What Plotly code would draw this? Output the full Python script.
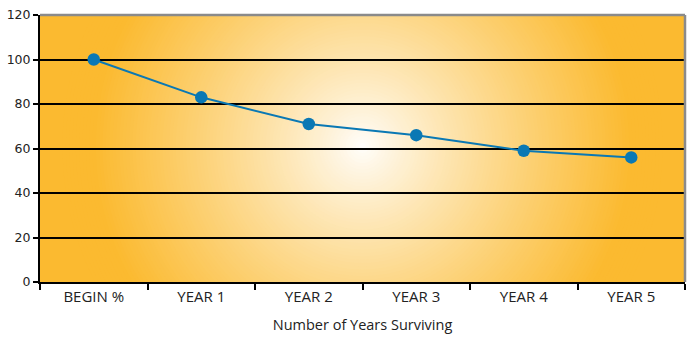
import plotly.graph_objects as go

# Survival data
categories = ["BEGIN %", "YEAR 1", "YEAR 2", "YEAR 3", "YEAR 4", "YEAR 5"]
surviving = [100, 83, 71, 66, 59, 56]
y_ticks = [0, 20, 40, 60, 80, 100, 120]

AMBER = (251, 186, 48)
LINE_BLUE = "#0A78B4"

fig = go.Figure()

fig.add_trace(go.Scatter(
    x=categories,
    y=surviving,
    mode="lines+markers",
    line=dict(color=LINE_BLUE, width=2),
    marker=dict(color=LINE_BLUE, size=12.5),
    cliponaxis=False,
    showlegend=False,
    hoverinfo="x+y",
))

# Radial glow behind the plot: concentric circles from amber edge to white centre
# (anchored in data coordinates so the plot area clips them)
shapes = []
n_rings = 90
max_r = 300
for i in range(n_rings, 0, -1):
    r = max_r * i / n_rings
    t = min(1.0, (r / 270) ** 0.85)
    col = tuple(round(255 + (a - 255) * t) for a in AMBER)
    shapes.append(dict(
        type="circle", xref="x", yref="y",
        xsizemode="pixel", ysizemode="pixel",
        xanchor=2.5, yanchor=61,
        x0=-r, x1=r, y0=-r, y1=r,
        fillcolor="rgb(%d,%d,%d)" % col,
        line=dict(width=0), layer="below",
    ))

# Grey frame on the top and right edges
shapes.append(dict(type="line", xref="x domain", yref="y domain",
                   x0=0, x1=1, y0=1, y1=1,
                   line=dict(color="#8a8a8a", width=2.5), layer="above"))
shapes.append(dict(type="line", xref="x domain", yref="y domain",
                   x0=1, x1=1, y0=0, y1=1,
                   line=dict(color="#8a8a8a", width=2.5), layer="above"))

fig.update_layout(
    width=689, height=339,
    margin=dict(l=40, r=4, t=15, b=57),
    paper_bgcolor="white",
    plot_bgcolor="rgb(%d,%d,%d)" % AMBER,
    shapes=shapes,
    font=dict(family="Open Sans", color="#222222"),
)

fig.update_xaxes(
    type="category",
    range=[-0.5, len(categories) - 0.5],
    tickson="boundaries",
    ticks="outside", ticklen=6, tickwidth=2, tickcolor="black",
    showline=True, linecolor="black", linewidth=2,
    showgrid=False,
    tickfont=dict(family="Open Sans", size=15, color="#222222"),
    title=dict(text="Number of Years Surviving",
               font=dict(family="Open Sans", size=14.5, color="#222222"),
               standoff=15),
)

fig.update_yaxes(
    range=[0, 120],
    tickvals=y_ticks,
    ticks="outside", ticklen=5, tickwidth=2, tickcolor="black",
    showline=True, linecolor="black", linewidth=2,
    showgrid=True, gridcolor="black", gridwidth=2,
    zeroline=False,
    tickfont=dict(family="DejaVu Sans", size=12.5, color="#222222"),
)

fig.write_html("out.html")
